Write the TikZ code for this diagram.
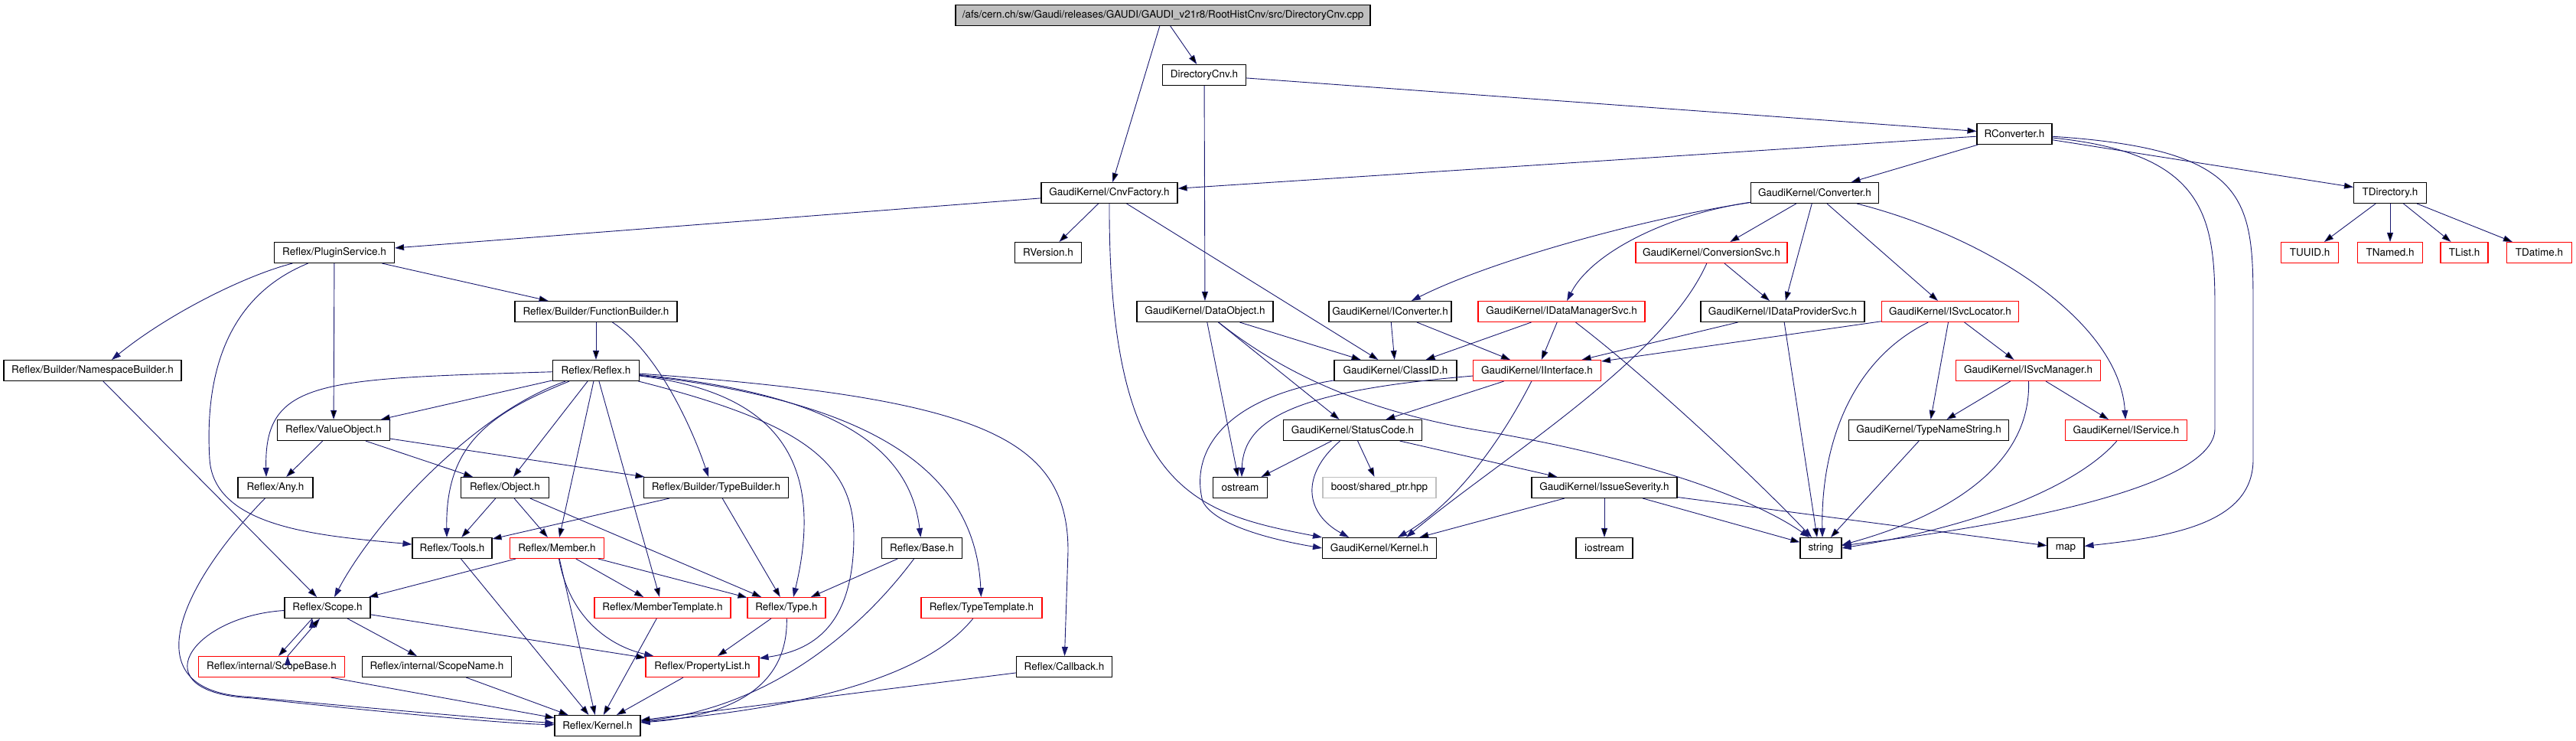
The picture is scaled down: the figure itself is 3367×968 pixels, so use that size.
\documentclass[tikz,border=0pt]{standalone}
\usepackage{fontspec}
\setmainfont{TeX Gyre Heros}
\usetikzlibrary{positioning,arrows.meta}
\definecolor{edgeblue}{RGB}{25,25,112}
\definecolor{grey75}{RGB}{191,191,191}
\tikzstyle{file}=[draw=black,fill=white,line width=1.1pt,minimum height=27pt,inner sep=0pt,font=\fontsize{13.5}{15}\selectfont]
\tikzstyle{trunc}=[draw=red]
\tikzstyle{ext}=[draw=grey75]
\tikzstyle{root}=[fill=grey75]
\tikzstyle{incl}=[->,draw=edgeblue,line width=0.9pt]
\newcommand{\newFile}[4]{\node[file,#3](#1) at #4 {#2};}
\newcommand{\newInclude}[3]{\path[incl] (#1) edge [#3] (#2);}
\begin{document}
\begin{tikzpicture}[x=1pt,y=-1pt,>={Triangle[length=12pt,width=8pt]}]
    \useasboundingbox (0,0) rectangle (3367,968);
    \newFile{top}{/afs/cern.ch/sw/Gaudi/releases/GAUDI/GAUDI\_v21r8/RootHistCnv/src/DirectoryCnv.cpp}{root,minimum width=542}{(1520,20)}
    \newFile{dcnvh}{DirectoryCnv.h}{minimum width=109}{(1574,98)}
    \newFile{rconv}{RConverter.h}{minimum width=98}{(2633,175)}
    \newFile{cnvfac}{GaudiKernel/CnvFactory.h}{minimum width=178}{(1450,252)}
    \newFile{conv}{GaudiKernel/Converter.h}{minimum width=167}{(2372,252)}
    \newFile{tdir}{TDirectory.h}{minimum width=95}{(3124,252)}
    \newFile{plugin}{Reflex/PluginService.h}{minimum width=157}{(437,330)}
    \newFile{rver}{RVersion.h}{minimum width=87}{(1370,330)}
    \newFile{convsvc}{GaudiKernel/ConversionSvc.h}{trunc,minimum width=198}{(2237,330)}
    \newFile{tuuid}{TUUID.h}{trunc,minimum width=75}{(3019,330)}
    \newFile{tnamed}{TNamed.h}{trunc,minimum width=85}{(3124,330)}
    \newFile{tlist}{TList.h}{trunc,minimum width=62}{(3221,330)}
    \newFile{tdatime}{TDatime.h}{trunc,minimum width=85}{(3319,330)}
    \newFile{funcb}{Reflex/Builder/FunctionBuilder.h}{minimum width=212}{(779,407)}
    \newFile{dobj}{GaudiKernel/DataObject.h}{minimum width=178}{(1575,407)}
    \newFile{iconv}{GaudiKernel/IConverter.h}{minimum width=160}{(1817,407)}
    \newFile{idms}{GaudiKernel/IDataManagerSvc.h}{trunc,minimum width=218}{(2041,407)}
    \newFile{idps}{GaudiKernel/IDataProviderSvc.h}{minimum width=214}{(2330,407)}
    \newFile{isl}{GaudiKernel/ISvcLocator.h}{trunc,minimum width=179}{(2549,407)}
    \newFile{nsb}{Reflex/Builder/NamespaceBuilder.h}{minimum width=232}{(121,484)}
    \newFile{reflex}{Reflex/Reflex.h}{minimum width=113}{(779,484)}
    \newFile{classid}{GaudiKernel/ClassID.h}{minimum width=160}{(1824,484)}
    \newFile{iint}{GaudiKernel/IInterface.h}{trunc,minimum width=167}{(2009,484)}
    \newFile{ism}{GaudiKernel/ISvcManager.h}{trunc,minimum width=189}{(2651,484)}
    \newFile{vobj}{Reflex/ValueObject.h}{minimum width=147}{(436,562)}
    \newFile{stcode}{GaudiKernel/StatusCode.h}{minimum width=181}{(1768,562)}
    \newFile{tns}{GaudiKernel/TypeNameString.h}{minimum width=209}{(2521,562)}
    \newFile{isvc}{GaudiKernel/IService.h}{trunc,minimum width=159}{(2779,562)}
    \newFile{any}{Reflex/Any.h}{minimum width=98}{(360,637)}
    \newFile{object}{Reflex/Object.h}{minimum width=115}{(660,637)}
    \newFile{tbuild}{Reflex/Builder/TypeBuilder.h}{minimum width=189}{(936,637)}
    \newFile{ostr}{ostream}{minimum width=71}{(1621,637)}
    \newFile{boost}{boost/shared\_ptr.hpp}{ext,minimum width=148}{(1803,637)}
    \newFile{issue}{GaudiKernel/IssueSeverity.h}{minimum width=190}{(2097,637)}
    \newFile{tools}{Reflex/Tools.h}{minimum width=104}{(591,716)}
    \newFile{member}{Reflex/Member.h}{trunc,minimum width=123}{(728,716)}
    \newFile{base}{Reflex/Base.h}{minimum width=105}{(1205,716)}
    \newFile{gkern}{GaudiKernel/Kernel.h}{minimum width=149}{(1803,716)}
    \newFile{iostr}{iostream}{minimum width=74}{(2097,716)}
    \newFile{str}{string}{minimum width=54}{(2380,716)}
    \newFile{map}{map}{minimum width=48}{(2700,716)}
    \newFile{scope}{Reflex/Scope.h}{minimum width=112}{(428,794)}
    \newFile{mtmpl}{Reflex/MemberTemplate.h}{trunc,minimum width=178}{(866,794)}
    \newFile{type}{Reflex/Type.h}{trunc,minimum width=102}{(1028,794)}
    \newFile{ttmpl}{Reflex/TypeTemplate.h}{trunc,minimum width=158}{(1283,794)}
    \newFile{sbase}{Reflex/internal/ScopeBase.h}{trunc,minimum width=191}{(355,871)}
    \newFile{sname}{Reflex/internal/ScopeName.h}{minimum width=195}{(571,871)}
    \newFile{plist}{Reflex/PropertyList.h}{trunc,minimum width=148}{(918,871)}
    \newFile{callb}{Reflex/Callback.h}{minimum width=125}{(1391,871)}
    \newFile{rkern}{Reflex/Kernel.h}{minimum width=112}{(781,948)}
    \newInclude{top}{dcnvh}{}
    \newInclude{top}{cnvfac}{}
    \newInclude{dcnvh}{rconv}{}
    \newInclude{dcnvh}{dobj}{}
    \newInclude{rconv}{cnvfac}{}
    \newInclude{rconv}{conv}{}
    \newInclude{rconv}{tdir}{}
    \draw[incl] (rconv) .. controls (2880,200) and (2895,280) .. (2895,400) -- (2895,560) .. controls (2895,640) and (2600,690) .. (str);
    \draw[incl] (rconv) .. controls (2940,195) and (2945,260) .. (2945,400) -- (2945,600) .. controls (2945,680) and (2850,700) .. (map);
    \newInclude{tdir}{tuuid}{}
    \newInclude{tdir}{tnamed}{}
    \newInclude{tdir}{tlist}{}
    \newInclude{tdir}{tdatime}{}
    \newInclude{cnvfac}{plugin}{}
    \newInclude{cnvfac}{rver}{}
    \newInclude{cnvfac}{classid}{}
    \draw[incl] (cnvfac) .. controls (1449,640) and (1560,670) .. (gkern.north west);
    \draw[incl] (conv) .. controls (2150,285) and (1950,340) .. (iconv);
    \draw[incl] (conv) .. controls (2180,280) and (2080,330) .. (idms);
    \newInclude{conv}{convsvc}{}
    \newInclude{conv}{idps}{}
    \newInclude{conv}{isl}{}
    \draw[incl] (conv) .. controls (2600,310) and (2770,420) .. (isvc);
    \newInclude{convsvc}{idps}{}
    \draw[incl] (convsvc) .. controls (2175,470) and (1960,600) .. ([xshift=35pt]gkern.north);
    \newInclude{dobj}{ostr}{}
    \newInclude{dobj}{stcode}{}
    \newInclude{dobj}{classid}{}
    \draw[incl] (dobj) .. controls (1680,490) and (1790,540) .. (1950,565) .. controls (2150,600) and (2290,650) .. ([xshift=-15pt]str.north);
    \newInclude{iconv}{classid}{}
    \newInclude{iconv}{iint}{}
    \newInclude{idms}{iint}{}
    \newInclude{idms}{classid}{}
    \draw[incl] (idms) .. controls (2150,490) and (2290,620) .. ([xshift=-12pt]str.north);
    \newInclude{idps}{iint}{}
    \newInclude{idps}{[xshift=-5pt]str.north}{}
    \newInclude{isl}{iint}{}
    \draw[incl] (isl) .. controls (2420,470) and (2380,580) .. ([xshift=2pt]str.north);
    \newInclude{isl}{tns}{}
    \newInclude{isl}{ism}{}
    \newInclude{iint}{stcode}{}
    \draw[incl] (iint) .. controls (1700,510) and (1625,545) .. ([xshift=2pt]ostr.north);
    \draw[incl] (iint) .. controls (1960,580) and (1900,660) .. ([xshift=24pt]gkern.north);
    \draw[incl] (classid) .. controls (1600,520) and (1555,590) .. (1572,655) .. controls (1590,690) and (1680,708) .. (gkern.west);
    \newInclude{ism}{tns}{}
    \newInclude{ism}{isvc}{}
    \draw[incl] (ism) .. controls (2655,600) and (2560,670) .. ([yshift=4pt]str.east);
    \newInclude{tns}{str}{}
    \draw[incl] (isvc) .. controls (2720,630) and (2600,685) .. (str.east);
    \newInclude{stcode}{ostr}{}
    \newInclude{stcode}{boost}{}
    \draw[incl] (stcode) .. controls (1700,620) and (1705,670) .. ([xshift=-40pt]gkern.north);
    \newInclude{stcode}{issue}{}
    \newInclude{issue}{iostr}{}
    \newInclude{issue}{str}{}
    \newInclude{issue}{map}{}
    \newInclude{issue}{gkern}{}
    \draw[incl] (plugin) .. controls (320,360) and (220,410) .. ([xshift=25pt]nsb.north);
    \draw[incl] (plugin) .. controls (290,390) and (268,500) .. (274,600) .. controls (280,690) and (420,700) .. (tools);
    \newInclude{plugin}{vobj}{}
    \newInclude{plugin}{funcb}{}
    \newInclude{funcb}{reflex}{}
    \draw[incl] (funcb) .. controls (860,460) and (905,560) .. ([xshift=-10pt]tbuild.north);
    \newInclude{nsb}{scope}{}
    \draw[incl] (reflex) .. controls (420,495) and (345,495) .. ([xshift=-12pt]any.north);
    \newInclude{reflex}{vobj}{}
    \draw[incl] (reflex) .. controls (620,540) and (490,680) .. ([xshift=9pt]scope.north);
    \draw[incl] (reflex) .. controls (640,540) and (582,580) .. ([xshift=-7pt]tools.north);
    \newInclude{reflex}{object}{}
    \newInclude{reflex}{member}{}
    \newInclude{reflex}{mtmpl}{}
    \draw[incl] (reflex) .. controls (990,510) and (1085,580) .. ([xshift=9pt]type.north);
    \draw[incl] (reflex) .. controls (1040,550) and (1116,600) .. (1116,700) .. controls (1116,820) and (1060,850) .. (plist);
    \draw[incl] (reflex) .. controls (1100,515) and (1190,590) .. (base);
    \draw[incl] (reflex) .. controls (1150,525) and (1275,620) .. (ttmpl);
    \draw[incl] (reflex) .. controls (1280,520) and (1396,570) .. (1396,720) -- (callb);
    \newInclude{vobj}{any}{}
    \newInclude{vobj}{object}{}
    \newInclude{vobj}{tbuild}{}
    \newInclude{object}{tools}{}
    \newInclude{object}{member}{}
    \newInclude{object}{type}{}
    \newInclude{tbuild}{tools}{}
    \newInclude{tbuild}{type}{}
    \draw[incl] (any) .. controls (240,760) and (170,900) .. (320,910) .. controls (450,922) and (650,940) .. (rkern);
    \newInclude{tools}{rkern}{}
    \newInclude{member}{scope}{}
    \newInclude{member}{mtmpl}{}
    \newInclude{member}{type}{}
    \newInclude{member}{rkern}{}
    \draw[incl] (member) .. controls (745,810) and (800,845) .. (plist);
    \newInclude{base}{type}{}
    \draw[incl] (base) .. controls (1120,830) and (1000,925) .. (rkern);
    \draw[incl] (scope) .. controls (250,805) and (180,905) .. (330,912) .. controls (450,925) and (650,945) .. (rkern);
    \newInclude{[xshift=-20pt]scope.south}{[xshift=9pt]sbase.north}{}
    \newInclude{[xshift=21pt]sbase.north}{[xshift=-10pt]scope.south}{}
    \newInclude{scope}{sname}{}
    \newInclude{scope}{plist}{}
    \newInclude{mtmpl}{rkern}{}
    \newInclude{type}{plist}{}
    \draw[incl] (type) .. controls (1030,895) and (960,935) .. (rkern);
    \draw[incl] (ttmpl) .. controls (1210,885) and (1050,925) .. (rkern);
    \newInclude{sbase}{rkern}{}
    \newInclude{sname}{rkern}{}
    \newInclude{plist}{rkern}{}
    \newInclude{callb}{rkern}{}
\end{tikzpicture}
\end{document}
